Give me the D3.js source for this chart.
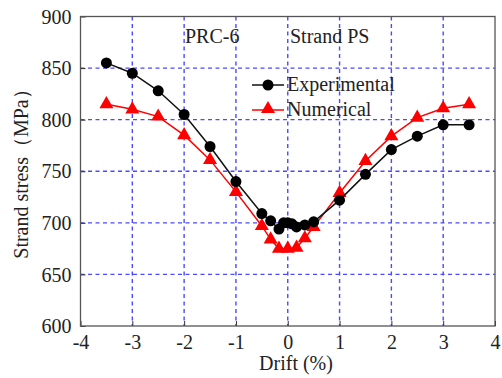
<!DOCTYPE html>
<html>
<head>
<meta charset="utf-8">
<script src="https://cdn.jsdelivr.net/npm/d3@7"></script>
<style>
  html, body { margin: 0; padding: 0; background: #fff; }
  svg { display: block; font-family: "Liberation Serif", "Times New Roman", serif; }
</style>
</head>
<body>
<svg id="chart" width="502" height="378"></svg>
<script>
// Drift (%) positions of each measurement
const expDrift = [-3.5, -3, -2.5, -2, -1.5, -1, -0.5, -0.33, -0.17, -0.08, 0, 0.08, 0.17, 0.33, 0.5, 1, 1.5, 2, 2.5, 3, 3.5];
// Experimental strand stress (MPa)
const expStress = [855, 845, 828, 805, 774, 740, 709, 702, 694, 700, 700, 699, 696, 698, 701, 722, 747, 771, 784, 795, 795];

const numDrift = [-3.5, -3, -2.5, -2, -1.5, -1, -0.5, -0.33, -0.17, 0, 0.17, 0.33, 0.5, 1, 1.5, 2, 2.5, 3, 3.5];
// Numerical strand stress (MPa)
const numStress = [815, 810, 803, 785, 761, 730, 697, 684, 675, 675, 676, 685, 696, 729, 760, 784, 802, 811, 815];

const xTicks = [-4, -3, -2, -1, 0, 1, 2, 3, 4];
const yTicks = [600, 650, 700, 750, 800, 850, 900];

const svg = d3.select("#chart");
const plotL = 80.5, plotR = 495, plotT = 16.5, plotB = 326;

const x = d3.scaleLinear().domain([-4, 4]).range([plotL, plotR]);
const y = d3.scaleLinear().domain([600, 900]).range([plotB, plotT]);

// dashed blue grid
const grid = svg.append("g")
  .attr("stroke", "#4a4aff")
  .attr("stroke-width", 1.4)
  .attr("stroke-dasharray", "4 3.5");
grid.selectAll("line.gx").data(xTicks.slice(1, -1)).join("line")
  .attr("x1", d => x(d)).attr("x2", d => x(d))
  .attr("y1", plotT).attr("y2", plotB);
grid.selectAll("line.gy").data(yTicks.slice(1, -1)).join("line")
  .attr("x1", plotL).attr("x2", plotR)
  .attr("y1", d => y(d)).attr("y2", d => y(d));

// axes with inward ticks; plain hyphen for negative labels
const fmt = d => String(d);
const xAxis = svg.append("g").attr("transform", `translate(0,${plotB})`)
  .call(d3.axisBottom(x).tickValues(xTicks).tickFormat(fmt).tickSizeInner(-5).tickSizeOuter(0).tickPadding(10));
const yAxis = svg.append("g").attr("transform", `translate(${plotL},0)`)
  .call(d3.axisLeft(y).tickValues(yTicks).tickFormat(fmt).tickSizeInner(-5).tickSizeOuter(0).tickPadding(9));
[xAxis, yAxis].forEach(a => {
  a.select(".domain").remove();
  a.selectAll(".tick line").attr("stroke", "#333").attr("stroke-width", 1);
  a.selectAll("text").attr("font-family", "Liberation Serif").attr("font-size", 20).attr("fill", "#222");
});
xAxis.selectAll("text").attr("dy", "0.71em").attr("y", 9);
yAxis.selectAll("text").attr("dy", "0.33em");

// frame
svg.append("rect")
  .attr("x", plotL).attr("y", plotT)
  .attr("width", plotR - plotL).attr("height", plotB - plotT)
  .attr("fill", "none").attr("stroke", "#555").attr("stroke-width", 1.3);

const expData = expDrift.map((d, i) => [d, expStress[i]]);
const numData = numDrift.map((d, i) => [d, numStress[i]]);
const line = d3.line().x(d => x(d[0])).y(d => y(d[1]));

// numerical series
svg.append("path").datum(numData)
  .attr("d", line).attr("fill", "none").attr("stroke", "#ff0000").attr("stroke-width", 1.5);
const tri = d3.symbol().type(d3.symbolTriangle).size(85);
svg.append("g").selectAll("path").data(numData).join("path")
  .attr("d", tri)
  .attr("transform", d => `translate(${x(d[0])},${y(d[1])})`)
  .attr("fill", "#ff0000");

// experimental series
svg.append("path").datum(expData)
  .attr("d", line).attr("fill", "none").attr("stroke", "#111").attr("stroke-width", 1.5);
svg.append("g").selectAll("circle").data(expData).join("circle")
  .attr("cx", d => x(d[0])).attr("cy", d => y(d[1])).attr("r", 5.5)
  .attr("fill", "#000");

// legend
const legend = svg.append("g");
legend.append("line").attr("x1", 252).attr("x2", 284).attr("y1", 85).attr("y2", 85)
  .attr("stroke", "#111").attr("stroke-width", 1.5);
legend.append("circle").attr("cx", 268).attr("cy", 85).attr("r", 5.5).attr("fill", "#000");
legend.append("text").attr("x", 287).attr("y", 91).attr("font-size", 20).attr("fill", "#222").text("Experimental");
legend.append("line").attr("x1", 252).attr("x2", 284).attr("y1", 110).attr("y2", 110)
  .attr("stroke", "#ff0000").attr("stroke-width", 1.5);
legend.append("path").attr("d", tri).attr("transform", "translate(268,109)").attr("fill", "#ff0000");
legend.append("text").attr("x", 287).attr("y", 116).attr("font-size", 20).attr("fill", "#222").text("Numerical");

// annotations
svg.append("text").attr("x", 185).attr("y", 43).attr("font-size", 20).attr("fill", "#222").text("PRC-6");
svg.append("text").attr("x", 290).attr("y", 43).attr("font-size", 20).attr("fill", "#222").text("Strand PS");

// axis titles
svg.append("text").attr("x", 296).attr("y", 370).attr("text-anchor", "middle")
  .attr("font-size", 20).attr("fill", "#222").text("Drift (%)");
svg.append("text").attr("transform", "translate(28,169) rotate(-90)").attr("text-anchor", "middle")
  .attr("font-size", 20).attr("fill", "#222").text("Strand stress（MPa）");
</script>
</body>
</html>
